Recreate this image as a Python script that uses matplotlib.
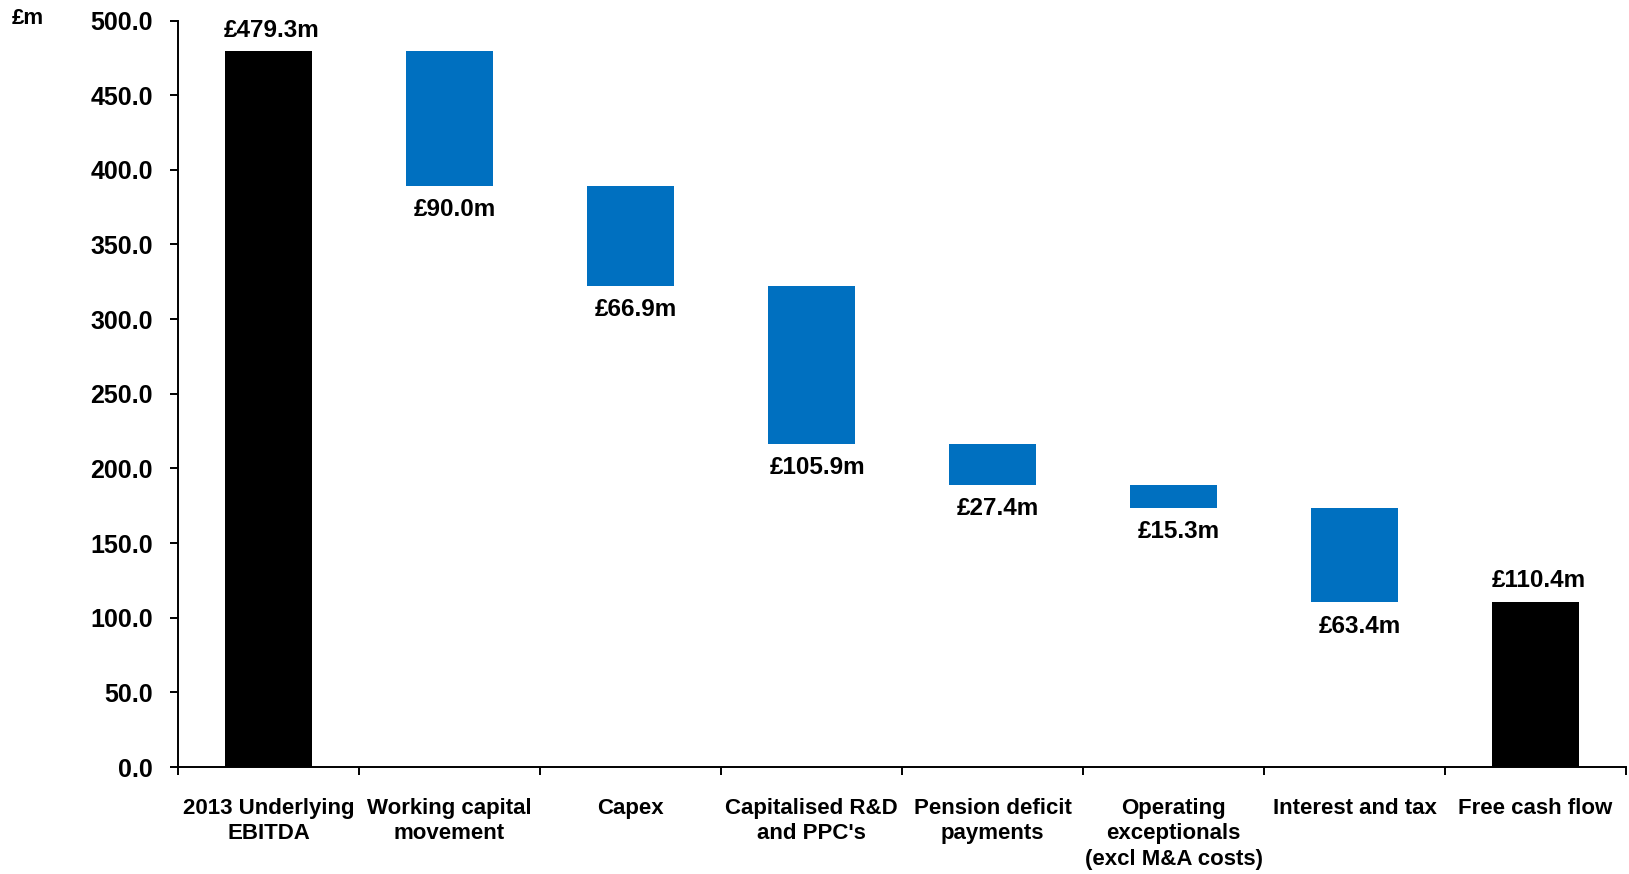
import matplotlib
matplotlib.use('Agg')
import matplotlib.pyplot as plt
import numpy as np

plt.rcParams['font.family'] = ['Liberation Sans', 'DejaVu Sans']
plt.rcParams['font.weight'] = 'bold'

# free cash flow bridge, £m
categories = ['2013 Underlying\nEBITDA', 'Working capital\nmovement', 'Capex',
              "Capitalised R&D\nand PPC's", 'Pension deficit\npayments',
              'Operating\nexceptionals\n(excl M&A costs)', 'Interest and tax',
              'Free cash flow']
start_value = 479.3
outflows = [90.0, 66.9, 105.9, 27.4, 15.3, 63.4]
end_value = 110.4
yticks = np.arange(0, 501, 50)

blue = '#0070C0'

fig = plt.figure(figsize=(16.29, 8.74), dpi=100)
ax = fig.add_axes([0.1093, 0.1224, 0.8889, 0.8541])

x = np.arange(len(categories)) + 0.5
w = 0.48

# totals
ax.bar(x[0], start_value, width=w, color='black')
ax.bar(x[-1], end_value, width=w, color='black')

# the reductions hang from the running total
level = start_value
for i, v in enumerate(outflows):
    ax.bar(x[i + 1], v, bottom=level - v, width=w, color=blue)
    ax.annotate('£%.1fm' % v, (x[i + 1], level - v), xytext=(4, -9),
                textcoords='offset points', ha='center', va='top',
                fontsize=17.5, fontweight='bold')
    level -= v

for xi, v in [(x[0], start_value), (x[-1], end_value)]:
    ax.annotate('£%.1fm' % v, (xi, v), xytext=(2, 7),
                textcoords='offset points', ha='center', va='bottom',
                fontsize=17.5, fontweight='bold')

ax.set_xlim(0, len(categories))
ax.set_ylim(0, 500)

ax.set_yticks(yticks)
ax.set_yticklabels(['%.1f' % t for t in yticks], fontsize=18, fontweight='bold')
ax.tick_params(axis='y', length=6, width=1.4, pad=12, direction='out')

# boundary ticks on the x axis, labels sit between them
ax.set_xticks(np.arange(len(categories) + 1))
ax.set_xticklabels([])
ax.set_xticks(x, minor=True)
ax.set_xticklabels(categories, minor=True, fontsize=16, fontweight='bold',
                   linespacing=1.3)
ax.tick_params(axis='x', which='major', length=6, width=1.4, direction='out')
ax.tick_params(axis='x', which='minor', length=0, pad=22)

for s in ['top', 'right']:
    ax.spines[s].set_visible(False)
for s in ['left', 'bottom']:
    ax.spines[s].set_linewidth(1.4)

fig.text(28 / 1629, 1 - 19 / 874, '£m', ha='center', va='center',
         fontsize=16, fontweight='bold')

fig.savefig('out.png', dpi=100)
